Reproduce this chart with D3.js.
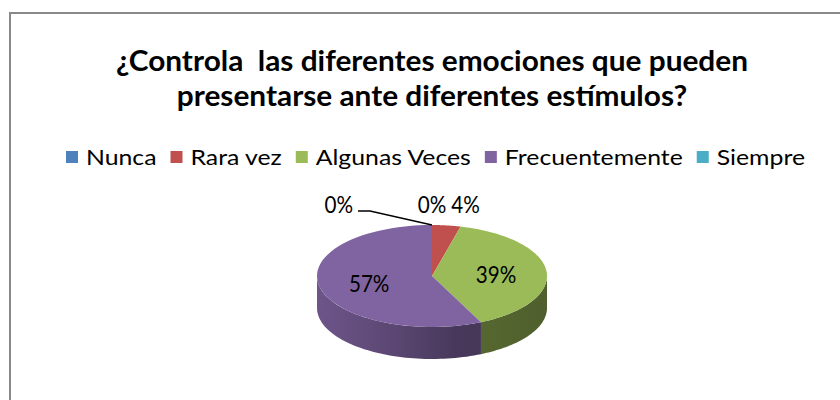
<!DOCTYPE html>
<html>
<head>
<meta charset="utf-8">
<script src="https://cdn.jsdelivr.net/npm/d3@7"></script>
<style>
  body { margin: 0; background: #fff; }
  svg { display: block; font-family: Lato, "Open Sans", sans-serif; }
</style>
</head>
<body>
<svg width="840" height="400"></svg>
<script>
// chart data
const categories = ["Nunca", "Rara vez", "Algunas Veces", "Frecuentemente", "Siempre"];
const values = [0, 4, 39, 57, 0];
const pctLabels = ["0%", "4%", "39%", "57%", "0%"];
const palette = ["#4F81BD", "#C0504D", "#9BBB59", "#8064A2", "#4BACC6"];
const titleLines = ["¿Controla  las diferentes emociones que pueden",
                    "presentarse ante diferentes estímulos?"];

const svg = d3.select("svg");

// squeeze text horizontally so it looks closer to a narrow office font
function condense(sel, k) {
  sel.each(function () {
    const w = this.getComputedTextLength();
    d3.select(this)
        .attr("textLength", w * k)
        .attr("lengthAdjust", "spacingAndGlyphs");
  });
}

// chart frame
svg.append("rect")
    .attr("x", 10).attr("y", 13)
    .attr("width", 860).attr("height", 420)
    .attr("fill", "#fff")
    .attr("stroke", "#898989")
    .attr("stroke-width", 2);

// title
const title = svg.append("g").attr("class", "title");
title.selectAll("text")
    .data(titleLines)
    .enter()
    .append("text")
    .attr("x", 432)
    .attr("y", (d, i) => 71 + i * 35)
    .attr("text-anchor", "middle")
    .attr("font-weight", "bold")
    .attr("font-size", 28)
    .style("white-space", "pre")
    .text(d => d);
const w0 = title.select("text").node().getComputedTextLength();
condense(title.selectAll("text"), 632 / w0);

// color scale
const color = d3.scaleOrdinal().domain(categories).range(palette);

// legend
const legend = svg.append("g").attr("id", "legend");
const box = 12, textGap = 20, itemGap = 14;
const items = legend.selectAll("g")
    .data(categories)
    .enter()
    .append("g");
items.append("rect")
    .attr("width", box).attr("height", box)
    .attr("y", -6)
    .attr("fill", d => color(d));
items.append("text")
    .attr("x", textGap)
    .attr("dy", "0.36em")
    .attr("font-size", 21)
    .attr("fill", "#000")
    .text(d => d);

const natural = d3.sum(items.select("text").nodes(), n => n.getComputedTextLength());
const fixed = categories.length * textGap + (categories.length - 1) * itemGap;
condense(items.select("text"), (739 - fixed) / natural);

let lx = 0;
items.each(function () {
  const g = d3.select(this);
  g.attr("transform", "translate(" + lx + ",0)");
  lx += textGap + +g.select("text").attr("textLength") + itemGap;
});
legend.attr("transform", "translate(" + (435.5 - (lx - itemGap) / 2) + ",157)");

// 3D pie
const cx = 432, cy = 276, rx = 115, ry = 51, depth = 32;
const ex = a => cx + rx * Math.sin(a);
const ey = a => cy - ry * Math.cos(a);
const steps = (a0, a1) => d3.range(61).map(i => a0 + (a1 - a0) * i / 60);
const line = d3.line();

const data = categories.map((c, i) => ({ name: c, value: values[i], label: pctLabels[i] }));
const arcs = d3.pie().sort(null).value(d => d.value)(data);

const defs = svg.append("defs");
arcs.forEach((d, i) => {
  const base = d3.color(color(d.data.name));
  const grad = defs.append("linearGradient")
      .attr("id", "side" + i)
      .attr("gradientUnits", "userSpaceOnUse")
      .attr("x1", cx - rx).attr("x2", cx + rx)
      .attr("y1", 0).attr("y2", 0);
  grad.append("stop").attr("offset", "0").attr("stop-color", base.darker(0.45));
  grad.append("stop").attr("offset", "0.35").attr("stop-color", base.darker(1.0));
  grad.append("stop").attr("offset", "0.6").attr("stop-color", base.darker(1.6));
  grad.append("stop").attr("offset", "1").attr("stop-color", base.darker(1.9));
});

// front walls
const walls = svg.append("g").attr("class", "walls");
arcs.forEach((d, i) => {
  const a0 = Math.max(d.startAngle, Math.PI / 2);
  const a1 = Math.min(d.endAngle, Math.PI * 3 / 2);
  if (a1 <= a0) return;
  const top = steps(a0, a1).map(a => [ex(a), ey(a)]);
  const bottom = steps(a1, a0).map(a => [ex(a), ey(a) + depth]);
  walls.append("path")
      .attr("d", line(top.concat(bottom)) + "Z")
      .attr("fill", "url(#side" + i + ")");
});

// top faces
const faces = svg.append("g").attr("class", "faces");
arcs.forEach(d => {
  if (d.endAngle - d.startAngle <= 0) return;
  const pts = [[cx, cy]].concat(steps(d.startAngle, d.endAngle).map(a => [ex(a), ey(a)]));
  faces.append("path")
      .attr("d", line(pts) + "Z")
      .attr("fill", color(d.data.name));
});

// data labels
const lbl = svg.append("g").attr("class", "labels")
    .attr("font-size", 24).attr("fill", "#000");

// labels inside the big slices
arcs.filter(d => d.data.value >= 10).forEach(d => {
  const m = (d.startAngle + d.endAngle) / 2;
  const t = lbl.append("text")
      .attr("x", cx + rx * 0.56 * Math.sin(m))
      .attr("y", cy - ry * 0.55 * Math.cos(m) + 1)
      .attr("text-anchor", "middle")
      .attr("dy", "0.35em")
      .text(d.data.label);
  condense(t, 0.86);
});

// labels outside the small slices, placed left to right above the pie
let lastRight = -Infinity;
const small = arcs.filter(d => d.data.value < 10);
small.forEach((d, k) => {
  const m = (d.startAngle + d.endAngle) / 2;
  const t = lbl.append("text").attr("y", 213).text(d.data.label);
  condense(t, 0.86);
  const w = +t.attr("textLength");
  let left = ex(m) - w / 2;
  if (k === small.length - 1 && left < lastRight) {
    // no room on the right: move it to the left with a leader line
    left = 417 - 64 - w;
    t.attr("x", left);
    lbl.append("polyline")
        .attr("points", [[left + w + 5, 211], [left + w + 17, 211], [ex(m), ey(m)]].join(" "))
        .attr("fill", "none")
        .attr("stroke", "#000")
        .attr("stroke-width", 1.3);
    return;
  }
  if (left < lastRight + 5) left = lastRight + 5;
  t.attr("x", left);
  lastRight = left + w;
});
</script>
</body>
</html>
